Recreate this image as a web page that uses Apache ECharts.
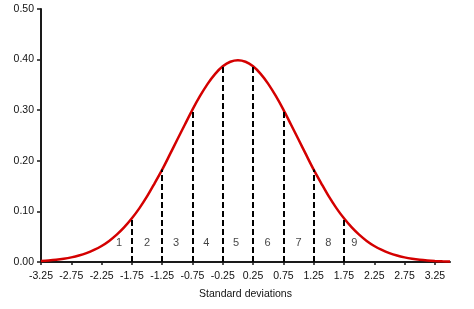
<!DOCTYPE html>
<html>
<head>
<meta charset="utf-8">
<script src="https://cdn.jsdelivr.net/npm/echarts@6/dist/echarts.min.js"></script>
<style>html,body{margin:0;padding:0;background:#fff;}#c{width:474px;height:309px;}</style>
</head>
<body>
<div id="c"></div>
<script>
// Curve readings (x in standard deviations, y density)
var curveX = [-3.25,-3.125,-3.0,-2.875,-2.75,-2.625,-2.5,-2.375,-2.25,-2.125,-2.0,-1.875,-1.75,-1.625,-1.5,-1.375,-1.25,-1.125,-1.0,-0.875,-0.75,-0.625,-0.5,-0.375,-0.25,-0.125,0,
              0.125,0.25,0.375,0.5,0.625,0.75,0.875,1.0,1.125,1.25,1.375,1.5,1.625,1.75,1.875,2.0,2.125,2.25,2.375,2.5,2.625,2.75,2.875,3.0,3.125,3.25,3.375,3.5];
var curveY = [0.0020,0.0030,0.0044,0.0064,0.0091,0.0127,0.0175,0.0238,0.0317,0.0417,0.0540,0.0688,0.0863,0.1065,0.1295,0.1556,0.1826,0.2121,0.2420,0.2717,0.3011,0.3281,0.3521,0.3719,0.3867,0.3958,0.3989,
              0.3958,0.3867,0.3719,0.3521,0.3281,0.3011,0.2717,0.2420,0.2121,0.1826,0.1556,0.1295,0.1065,0.0863,0.0688,0.0540,0.0417,0.0317,0.0238,0.0175,0.0127,0.0091,0.0064,0.0044,0.0030,0.0020,0.0013,0.0009];
// Dashed divider lines
var dividerX = [-1.75,-1.25,-0.75,-0.25,0.25,0.75,1.25,1.75];
var dividerY = [0.0863,0.1826,0.3011,0.3867,0.3867,0.3011,0.1826,0.0863];
// Segment numbers
var segLabels = ['1','2','3','4','5','6','7','8','9'];
var segX = [-1.96,-1.5,-1.02,-0.52,-0.03,0.49,1.0,1.49,1.92];
var segY = [0.037,0.037,0.037,0.037,0.037,0.037,0.037,0.037,0.037];
// Axis ticks
var xTicks = [-3.25,-2.75,-2.25,-1.75,-1.25,-0.75,-0.25,0.25,0.75,1.25,1.75,2.25,2.75,3.25];
var xName = 'Standard deviations';

var chart = echarts.init(document.getElementById('c'), null, {renderer:'canvas'});
var font = 'Liberation Sans, Arial, sans-serif';
var axisColor = '#1a1a1a';

var curveData = curveX.map(function(x,i){return [x, curveY[i]];});
var markData = dividerX.map(function(x,i){
  return [{coord:[x,0]},{coord:[x,dividerY[i]]}];
});
var segData = segX.map(function(x,i){return {value:[x, segY[i]], name: segLabels[i]};});

chart.setOption({
  animation:false,
  backgroundColor:'#fff',
  grid:{left:41,right:24,top:9,bottom:47,containLabel:false},
  xAxis:{
    type:'value', min:-3.25, max:3.5,
    name:xName, nameLocation:'middle', nameGap:27,
    nameTextStyle:{color:'#111', fontFamily:font, fontSize:10.5},
    axisLine:{show:true, onZero:false, lineStyle:{color:axisColor, width:2}},
    axisTick:{show:true, customValues:xTicks, length:3, lineStyle:{color:axisColor, width:1.5}},
    axisLabel:{customValues:xTicks, margin:9, color:'#111', fontFamily:font, fontSize:10.5,
      formatter:function(v){return v.toFixed(2);}},
    splitLine:{show:false}
  },
  yAxis:{
    type:'value', min:0, max:0.5, interval:0.1,
    axisLine:{show:true, onZero:false, lineStyle:{color:axisColor, width:2}},
    axisTick:{show:true, length:4, lineStyle:{color:axisColor, width:1.5}},
    axisLabel:{margin:7, color:'#111', fontFamily:font, fontSize:10.5,
      formatter:function(v){return v.toFixed(2);}},
    splitLine:{show:false}
  },
  series:[
    {
      type:'line', data:[], silent:true,
      markLine:{
        symbol:['none','none'], silent:true, label:{show:false},
        lineStyle:{type:[6,3], color:'#000', width:2},
        data:markData, animation:false
      }
    },
    {
      type:'line', data:curveData, smooth:0.3, showSymbol:false, symbol:'none',
      lineStyle:{color:'#d40000', width:2.5}, z:3
    },
    {
      type:'scatter', data:segData, symbolSize:0,
      label:{show:true, position:'inside', formatter:function(p){return p.name;},
        color:'#111', fontFamily:font, fontSize:11}
    }
  ]
});
</script>
</body>
</html>
